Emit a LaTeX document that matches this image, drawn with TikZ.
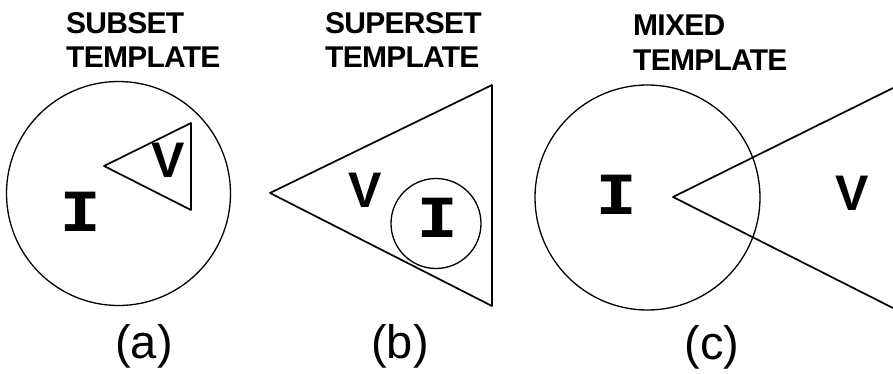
\documentclass[tikz,border=0pt]{standalone}
\usepackage{fontspec}
\setmainfont{Liberation Sans}
\newfontfamily\monofnt{DejaVu Sans Mono}
\newfontfamily\ttlfnt[LetterSpace=-2.5]{Liberation Sans}
\newcommand{\wideI}{\scalebox{1.3}[1]{I}}
\begin{document}
\begin{tikzpicture}[x=1pt,y=-1pt,
  shp/.style={draw=black,line width=1.7pt,line join=round},
  crc/.style={draw=black,line width=1.3pt,circle,inner sep=0pt},
  ttl/.style={anchor=base west,inner sep=0pt,font=\ttlfnt\bfseries\fontsize{30}{34}\selectfont},
  vlet/.style={inner sep=0pt,font=\bfseries\fontsize{50}{50}\selectfont},
  ilet/.style={inner sep=0pt,font=\monofnt\bfseries\fontsize{54}{54}\selectfont},
  sublbl/.style={inner sep=0pt,font=\fontsize{47}{47}\selectfont}]
\path[use as bounding box,fill=white] (0,0) rectangle (893,374);
% titles
\node[ttl] (ta1) at (66,34) {SUBSET};
\node[ttl] (ta2) at (66,68) {TEMPLATE};
\node[ttl] (tb1) at (325,34) {SUPERSET};
\node[ttl] (tb2) at (325,68) {TEMPLATE};
\node[ttl] (tc1) at (633,36) {MIXED};
\node[ttl] (tc2) at (633,71) {TEMPLATE};
% (a)
\node[crc,minimum size=224pt] (ca) at (118.5,193.5) {};
\coordinate (a1) at (104,166);
\coordinate (a2) at (191,123);
\coordinate (a3) at (191,210);
\draw[shp] (a1) -- (a2) -- (a3) -- cycle;
\node[vlet] (va) at (168,160) {V};
\node[ilet] (ia) at (81,212) {\wideI};
\node[sublbl] (la) at (144,346) {(a)};
% (b)
\coordinate (b1) at (270,193);
\coordinate (b2) at (492,85);
\coordinate (b3) at (492,306);
\draw[shp] (b1) -- (b2) -- (b3) -- cycle;
\node[crc,minimum size=90pt] (cb) at (436,223.5) {};
\node[vlet] (vb) at (365,190) {V};
\node[ilet] (ib) at (438,218) {\wideI};
\node[sublbl] (lb) at (400,346) {(b)};
% (c)
\node[crc,minimum size=225pt] (cc) at (647.5,197.5) {};
\coordinate (c1) at (673,197);
\coordinate (c2) at (893,88);
\coordinate (c3) at (893,308);
\draw[shp] (c2) -- (c1) -- (c3);
\node[vlet] (vc) at (852,193) {V};
\node[ilet] (ic) at (617,195) {\wideI};
\node[sublbl] (lc) at (712,347) {(c)};
\end{tikzpicture}
\end{document}
